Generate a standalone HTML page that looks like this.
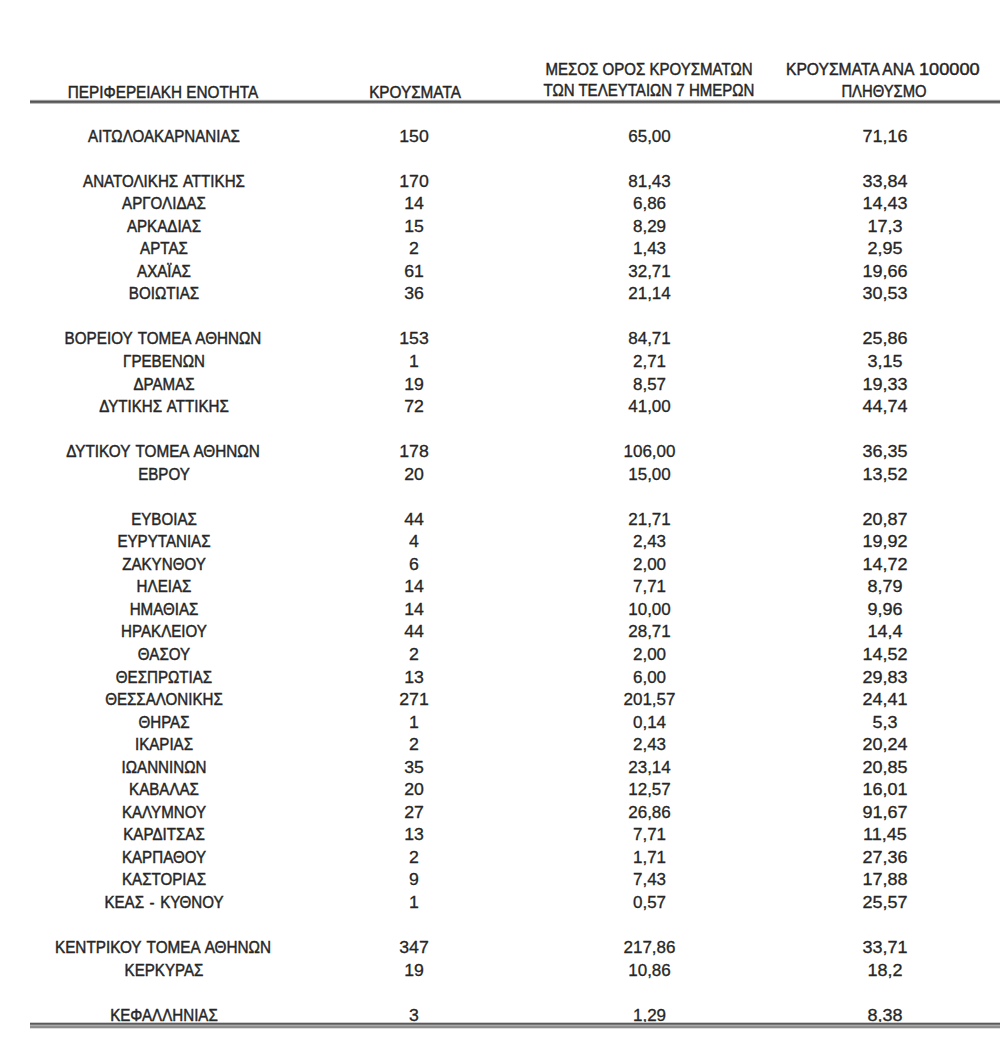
<!DOCTYPE html>
<html><head><meta charset="utf-8"><style>
html,body{margin:0;padding:0;background:#fff;width:1000px;height:1056px;overflow:hidden}
#w{position:relative;width:1000px;height:1056px}
.c{position:absolute;width:1000px;text-align:center;white-space:nowrap;font-family:"Liberation Sans",sans-serif;font-size:17px;line-height:1;color:#262626;transform-origin:500px 0;-webkit-text-stroke:0.45px #262626}
.n{word-spacing:1.5px;-webkit-text-stroke-width:0.45px}
.d{-webkit-text-stroke-width:0.3px}
.ln{position:absolute;left:30px;right:0}
</style></head><body><div id="w">
<div class="c" style="left:-337px;top:83.61px;transform:scaleX(0.9)">ΠΕΡΙΦΕΡΕΙΑΚΗ ΕΝΟΤΗΤΑ</div>
<div class="c" style="left:-85px;top:83.61px;transform:scaleX(0.9)">ΚΡΟΥΣΜΑΤΑ</div>
<div class="c" style="left:149px;top:61.11px;transform:scaleX(0.885)">ΜΕΣΟΣ ΟΡΟΣ ΚΡΟΥΣΜΑΤΩΝ</div>
<div class="c" style="left:149px;top:82.11px;transform:scaleX(0.885)">ΤΩΝ ΤΕΛΕΥΤΑΙΩΝ 7 ΗΜΕΡΩΝ</div>
<div class="c" style="left:786px;top:60.61px;width:auto;text-align:left;transform-origin:0 0;transform:scaleX(0.92)">ΚΡΟΥΣΜΑΤΑ ΑΝΑ</div>
<div class="c" style="left:919px;top:60.61px;width:auto;text-align:left;transform-origin:0 0;transform:scaleX(1.07)">100000</div>
<div class="c" style="left:383.5px;top:82.61px;transform:scaleX(0.87)">ΠΛΗΘΥΣΜΟ</div>
<div class="ln" style="top:99px;height:5px;background:linear-gradient(to bottom,#eee 0px,#eee 1px,#999 1px,#999 2px,#555 2px,#555 3px,#666 3px,#666 4px,#bbb 4px,#bbb 5px)"></div>
<div class="c n" style="left:-336.5px;top:127.61px;transform:scaleX(0.89)">ΑΙΤΩΛΟΑΚΑΡΝΑΝΙΑΣ</div>
<div class="c d" style="left:-86px;top:127.61px;transform:scaleX(1.04)">150</div>
<div class="c d" style="left:149.5px;top:127.61px;transform:scaleX(1.0)">65,00</div>
<div class="c d" style="left:384.5px;top:127.61px;transform:scaleX(1.06)">71,16</div>
<div class="c n" style="left:-336.5px;top:172.69px;transform:scaleX(0.89)">ΑΝΑΤΟΛΙΚΗΣ ΑΤΤΙΚΗΣ</div>
<div class="c d" style="left:-86px;top:172.69px;transform:scaleX(1.04)">170</div>
<div class="c d" style="left:149.5px;top:172.69px;transform:scaleX(1.0)">81,43</div>
<div class="c d" style="left:384.5px;top:172.69px;transform:scaleX(1.06)">33,84</div>
<div class="c n" style="left:-336.5px;top:195.23px;transform:scaleX(0.89)">ΑΡΓΟΛΙΔΑΣ</div>
<div class="c d" style="left:-86px;top:195.23px;transform:scaleX(1.04)">14</div>
<div class="c d" style="left:149.5px;top:195.23px;transform:scaleX(1.0)">6,86</div>
<div class="c d" style="left:384.5px;top:195.23px;transform:scaleX(1.06)">14,43</div>
<div class="c n" style="left:-336.5px;top:217.77px;transform:scaleX(0.89)">ΑΡΚΑΔΙΑΣ</div>
<div class="c d" style="left:-86px;top:217.77px;transform:scaleX(1.04)">15</div>
<div class="c d" style="left:149.5px;top:217.77px;transform:scaleX(1.0)">8,29</div>
<div class="c d" style="left:384.5px;top:217.77px;transform:scaleX(1.06)">17,3</div>
<div class="c n" style="left:-336.5px;top:240.31px;transform:scaleX(0.89)">ΑΡΤΑΣ</div>
<div class="c d" style="left:-86px;top:240.31px;transform:scaleX(1.04)">2</div>
<div class="c d" style="left:149.5px;top:240.31px;transform:scaleX(1.0)">1,43</div>
<div class="c d" style="left:384.5px;top:240.31px;transform:scaleX(1.06)">2,95</div>
<div class="c n" style="left:-336.5px;top:262.85px;transform:scaleX(0.89)">ΑΧΑΪΑΣ</div>
<div class="c d" style="left:-86px;top:262.85px;transform:scaleX(1.04)">61</div>
<div class="c d" style="left:149.5px;top:262.85px;transform:scaleX(1.0)">32,71</div>
<div class="c d" style="left:384.5px;top:262.85px;transform:scaleX(1.06)">19,66</div>
<div class="c n" style="left:-336.5px;top:285.39px;transform:scaleX(0.89)">ΒΟΙΩΤΙΑΣ</div>
<div class="c d" style="left:-86px;top:285.39px;transform:scaleX(1.04)">36</div>
<div class="c d" style="left:149.5px;top:285.39px;transform:scaleX(1.0)">21,14</div>
<div class="c d" style="left:384.5px;top:285.39px;transform:scaleX(1.06)">30,53</div>
<div class="c n" style="left:-337px;top:330.47px;transform:scaleX(0.895)">ΒΟΡΕΙΟΥ ΤΟΜΕΑ ΑΘΗΝΩΝ</div>
<div class="c d" style="left:-86px;top:330.47px;transform:scaleX(1.04)">153</div>
<div class="c d" style="left:149.5px;top:330.47px;transform:scaleX(1.0)">84,71</div>
<div class="c d" style="left:384.5px;top:330.47px;transform:scaleX(1.06)">25,86</div>
<div class="c n" style="left:-336.5px;top:353.01px;transform:scaleX(0.89)">ΓΡΕΒΕΝΩΝ</div>
<div class="c d" style="left:-86px;top:353.01px;transform:scaleX(1.04)">1</div>
<div class="c d" style="left:149.5px;top:353.01px;transform:scaleX(1.0)">2,71</div>
<div class="c d" style="left:384.5px;top:353.01px;transform:scaleX(1.06)">3,15</div>
<div class="c n" style="left:-336.5px;top:375.55px;transform:scaleX(0.89)">ΔΡΑΜΑΣ</div>
<div class="c d" style="left:-86px;top:375.55px;transform:scaleX(1.04)">19</div>
<div class="c d" style="left:149.5px;top:375.55px;transform:scaleX(1.0)">8,57</div>
<div class="c d" style="left:384.5px;top:375.55px;transform:scaleX(1.06)">19,33</div>
<div class="c n" style="left:-336.5px;top:398.09px;transform:scaleX(0.89)">ΔΥΤΙΚΗΣ ΑΤΤΙΚΗΣ</div>
<div class="c d" style="left:-86px;top:398.09px;transform:scaleX(1.04)">72</div>
<div class="c d" style="left:149.5px;top:398.09px;transform:scaleX(1.0)">41,00</div>
<div class="c d" style="left:384.5px;top:398.09px;transform:scaleX(1.06)">44,74</div>
<div class="c n" style="left:-337.5px;top:443.17px;transform:scaleX(0.9)">ΔΥΤΙΚΟΥ ΤΟΜΕΑ ΑΘΗΝΩΝ</div>
<div class="c d" style="left:-86px;top:443.17px;transform:scaleX(1.04)">178</div>
<div class="c d" style="left:149.5px;top:443.17px;transform:scaleX(1.0)">106,00</div>
<div class="c d" style="left:384.5px;top:443.17px;transform:scaleX(1.06)">36,35</div>
<div class="c n" style="left:-336.5px;top:465.71px;transform:scaleX(0.89)">ΕΒΡΟΥ</div>
<div class="c d" style="left:-86px;top:465.71px;transform:scaleX(1.04)">20</div>
<div class="c d" style="left:149.5px;top:465.71px;transform:scaleX(1.0)">15,00</div>
<div class="c d" style="left:384.5px;top:465.71px;transform:scaleX(1.06)">13,52</div>
<div class="c n" style="left:-336.5px;top:510.79px;transform:scaleX(0.89)">ΕΥΒΟΙΑΣ</div>
<div class="c d" style="left:-86px;top:510.79px;transform:scaleX(1.04)">44</div>
<div class="c d" style="left:149.5px;top:510.79px;transform:scaleX(1.0)">21,71</div>
<div class="c d" style="left:384.5px;top:510.79px;transform:scaleX(1.06)">20,87</div>
<div class="c n" style="left:-336.5px;top:533.33px;transform:scaleX(0.89)">ΕΥΡΥΤΑΝΙΑΣ</div>
<div class="c d" style="left:-86px;top:533.33px;transform:scaleX(1.04)">4</div>
<div class="c d" style="left:149.5px;top:533.33px;transform:scaleX(1.0)">2,43</div>
<div class="c d" style="left:384.5px;top:533.33px;transform:scaleX(1.06)">19,92</div>
<div class="c n" style="left:-336.5px;top:555.87px;transform:scaleX(0.89)">ΖΑΚΥΝΘΟΥ</div>
<div class="c d" style="left:-86px;top:555.87px;transform:scaleX(1.04)">6</div>
<div class="c d" style="left:149.5px;top:555.87px;transform:scaleX(1.0)">2,00</div>
<div class="c d" style="left:384.5px;top:555.87px;transform:scaleX(1.06)">14,72</div>
<div class="c n" style="left:-336.5px;top:578.41px;transform:scaleX(0.89)">ΗΛΕΙΑΣ</div>
<div class="c d" style="left:-86px;top:578.41px;transform:scaleX(1.04)">14</div>
<div class="c d" style="left:149.5px;top:578.41px;transform:scaleX(1.0)">7,71</div>
<div class="c d" style="left:384.5px;top:578.41px;transform:scaleX(1.06)">8,79</div>
<div class="c n" style="left:-336.5px;top:600.95px;transform:scaleX(0.89)">ΗΜΑΘΙΑΣ</div>
<div class="c d" style="left:-86px;top:600.95px;transform:scaleX(1.04)">14</div>
<div class="c d" style="left:149.5px;top:600.95px;transform:scaleX(1.0)">10,00</div>
<div class="c d" style="left:384.5px;top:600.95px;transform:scaleX(1.06)">9,96</div>
<div class="c n" style="left:-336.5px;top:623.49px;transform:scaleX(0.89)">ΗΡΑΚΛΕΙΟΥ</div>
<div class="c d" style="left:-86px;top:623.49px;transform:scaleX(1.04)">44</div>
<div class="c d" style="left:149.5px;top:623.49px;transform:scaleX(1.0)">28,71</div>
<div class="c d" style="left:384.5px;top:623.49px;transform:scaleX(1.06)">14,4</div>
<div class="c n" style="left:-336.5px;top:646.03px;transform:scaleX(0.89)">ΘΑΣΟΥ</div>
<div class="c d" style="left:-86px;top:646.03px;transform:scaleX(1.04)">2</div>
<div class="c d" style="left:149.5px;top:646.03px;transform:scaleX(1.0)">2,00</div>
<div class="c d" style="left:384.5px;top:646.03px;transform:scaleX(1.06)">14,52</div>
<div class="c n" style="left:-336.5px;top:668.57px;transform:scaleX(0.89)">ΘΕΣΠΡΩΤΙΑΣ</div>
<div class="c d" style="left:-86px;top:668.57px;transform:scaleX(1.04)">13</div>
<div class="c d" style="left:149.5px;top:668.57px;transform:scaleX(1.0)">6,00</div>
<div class="c d" style="left:384.5px;top:668.57px;transform:scaleX(1.06)">29,83</div>
<div class="c n" style="left:-336.5px;top:691.11px;transform:scaleX(0.89)">ΘΕΣΣΑΛΟΝΙΚΗΣ</div>
<div class="c d" style="left:-86px;top:691.11px;transform:scaleX(1.04)">271</div>
<div class="c d" style="left:149.5px;top:691.11px;transform:scaleX(1.0)">201,57</div>
<div class="c d" style="left:384.5px;top:691.11px;transform:scaleX(1.06)">24,41</div>
<div class="c n" style="left:-336.5px;top:713.65px;transform:scaleX(0.89)">ΘΗΡΑΣ</div>
<div class="c d" style="left:-86px;top:713.65px;transform:scaleX(1.04)">1</div>
<div class="c d" style="left:149.5px;top:713.65px;transform:scaleX(1.0)">0,14</div>
<div class="c d" style="left:384.5px;top:713.65px;transform:scaleX(1.06)">5,3</div>
<div class="c n" style="left:-336.5px;top:736.19px;transform:scaleX(0.89)">ΙΚΑΡΙΑΣ</div>
<div class="c d" style="left:-86px;top:736.19px;transform:scaleX(1.04)">2</div>
<div class="c d" style="left:149.5px;top:736.19px;transform:scaleX(1.0)">2,43</div>
<div class="c d" style="left:384.5px;top:736.19px;transform:scaleX(1.06)">20,24</div>
<div class="c n" style="left:-336.5px;top:758.73px;transform:scaleX(0.89)">ΙΩΑΝΝΙΝΩΝ</div>
<div class="c d" style="left:-86px;top:758.73px;transform:scaleX(1.04)">35</div>
<div class="c d" style="left:149.5px;top:758.73px;transform:scaleX(1.0)">23,14</div>
<div class="c d" style="left:384.5px;top:758.73px;transform:scaleX(1.06)">20,85</div>
<div class="c n" style="left:-336.5px;top:781.27px;transform:scaleX(0.89)">ΚΑΒΑΛΑΣ</div>
<div class="c d" style="left:-86px;top:781.27px;transform:scaleX(1.04)">20</div>
<div class="c d" style="left:149.5px;top:781.27px;transform:scaleX(1.0)">12,57</div>
<div class="c d" style="left:384.5px;top:781.27px;transform:scaleX(1.06)">16,01</div>
<div class="c n" style="left:-336.5px;top:803.81px;transform:scaleX(0.89)">ΚΑΛΥΜΝΟΥ</div>
<div class="c d" style="left:-86px;top:803.81px;transform:scaleX(1.04)">27</div>
<div class="c d" style="left:149.5px;top:803.81px;transform:scaleX(1.0)">26,86</div>
<div class="c d" style="left:384.5px;top:803.81px;transform:scaleX(1.06)">91,67</div>
<div class="c n" style="left:-336.5px;top:826.35px;transform:scaleX(0.89)">ΚΑΡΔΙΤΣΑΣ</div>
<div class="c d" style="left:-86px;top:826.35px;transform:scaleX(1.04)">13</div>
<div class="c d" style="left:149.5px;top:826.35px;transform:scaleX(1.0)">7,71</div>
<div class="c d" style="left:384.5px;top:826.35px;transform:scaleX(1.06)">11,45</div>
<div class="c n" style="left:-336.5px;top:848.89px;transform:scaleX(0.89)">ΚΑΡΠΑΘΟΥ</div>
<div class="c d" style="left:-86px;top:848.89px;transform:scaleX(1.04)">2</div>
<div class="c d" style="left:149.5px;top:848.89px;transform:scaleX(1.0)">1,71</div>
<div class="c d" style="left:384.5px;top:848.89px;transform:scaleX(1.06)">27,36</div>
<div class="c n" style="left:-336.5px;top:871.43px;transform:scaleX(0.89)">ΚΑΣΤΟΡΙΑΣ</div>
<div class="c d" style="left:-86px;top:871.43px;transform:scaleX(1.04)">9</div>
<div class="c d" style="left:149.5px;top:871.43px;transform:scaleX(1.0)">7,43</div>
<div class="c d" style="left:384.5px;top:871.43px;transform:scaleX(1.06)">17,88</div>
<div class="c n" style="left:-336.5px;top:893.97px;transform:scaleX(0.89)">ΚΕΑΣ - ΚΥΘΝΟΥ</div>
<div class="c d" style="left:-86px;top:893.97px;transform:scaleX(1.04)">1</div>
<div class="c d" style="left:149.5px;top:893.97px;transform:scaleX(1.0)">0,57</div>
<div class="c d" style="left:384.5px;top:893.97px;transform:scaleX(1.06)">25,57</div>
<div class="c n" style="left:-337.5px;top:939.05px;transform:scaleX(0.9)">ΚΕΝΤΡΙΚΟΥ ΤΟΜΕΑ ΑΘΗΝΩΝ</div>
<div class="c d" style="left:-86px;top:939.05px;transform:scaleX(1.04)">347</div>
<div class="c d" style="left:149.5px;top:939.05px;transform:scaleX(1.0)">217,86</div>
<div class="c d" style="left:384.5px;top:939.05px;transform:scaleX(1.06)">33,71</div>
<div class="c n" style="left:-336.5px;top:961.59px;transform:scaleX(0.89)">ΚΕΡΚΥΡΑΣ</div>
<div class="c d" style="left:-86px;top:961.59px;transform:scaleX(1.04)">19</div>
<div class="c d" style="left:149.5px;top:961.59px;transform:scaleX(1.0)">10,86</div>
<div class="c d" style="left:384.5px;top:961.59px;transform:scaleX(1.06)">18,2</div>
<div class="c n" style="left:-336.5px;top:1006.67px;transform:scaleX(0.89)">ΚΕΦΑΛΛΗΝΙΑΣ</div>
<div class="c d" style="left:-86px;top:1006.67px;transform:scaleX(1.04)">3</div>
<div class="c d" style="left:149.5px;top:1006.67px;transform:scaleX(1.0)">1,29</div>
<div class="c d" style="left:384.5px;top:1006.67px;transform:scaleX(1.06)">8,38</div>
<div class="ln" style="top:1022px;height:7px;background:linear-gradient(to bottom,#ccc 0px,#ccc 1px,#5a5a5a 1px,#5a5a5a 2px,#777 2px,#777 3px,#aaa 3px,#aaa 4px,#8f8f8f 4px,#8f8f8f 5px,#8c8c8c 5px,#8c8c8c 6px,#ddd 6px,#ddd 7px)"></div>
</div></body></html>
